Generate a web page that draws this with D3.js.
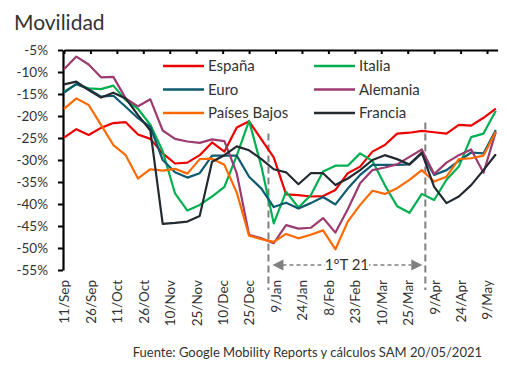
<!DOCTYPE html>
<html>
  <head>
    <meta charset="utf-8">
    <script src="https://d3js.org/d3.v7.min.js"></script>
    <style>
      body { margin: 0; background: #fff; }
      text { font-family: Lato, "Open Sans", sans-serif; fill: #333; }
    </style>
  </head>
<body>
<script>
// weekly observations (Friday of each week)
var weeks = ["2020-09-11","2020-09-18","2020-09-25","2020-10-02","2020-10-09","2020-10-16",
  "2020-10-23","2020-10-30","2020-11-06","2020-11-13","2020-11-20","2020-11-27","2020-12-04",
  "2020-12-11","2020-12-18","2020-12-25","2021-01-01","2021-01-08","2021-01-15","2021-01-22",
  "2021-01-29","2021-02-05","2021-02-12","2021-02-19","2021-02-26","2021-03-05","2021-03-12",
  "2021-03-19","2021-03-26","2021-04-02","2021-04-09","2021-04-16","2021-04-23","2021-04-30",
  "2021-05-07","2021-05-14"];

var espana = [-24.9,-23.0,-24.3,-22.7,-21.6,-21.4,-24.2,-25.2,-28.5,-30.8,-30.6,-28.9,-26.0,
  -28.1,-22.6,-21.2,-25.3,-29.4,-37.8,-38.0,-38.3,-38.2,-36.8,-33.0,-31.5,-28.1,-26.6,-24.0,
  -23.8,-23.4,-23.7,-24.0,-22.0,-22.2,-20.4,-18.3];
var italia = [-14.5,-12.8,-13.7,-13.9,-13.1,-16.4,-18.4,-22.0,-28.0,-37.6,-41.5,-40.2,-38.3,
  -36.1,-29.0,-21.1,-31.5,-44.4,-37.2,-40.8,-38.0,-32.6,-31.3,-31.3,-28.5,-30.2,-35.7,-40.5,
  -42.0,-37.7,-39.1,-34.5,-31.5,-24.8,-24.0,-18.8];
var euro = [-14.7,-12.7,-13.9,-15.6,-15.4,-17.9,-20.5,-22.5,-30.0,-32.8,-34.0,-33.0,-29.0,
  -29.0,-29.0,-33.8,-36.5,-40.7,-39.7,-41.0,-39.8,-38.4,-40.1,-36.5,-33.4,-31.1,-31.1,-31.1,
  -31.0,-28.5,-33.4,-32.3,-30.2,-28.3,-28.5,-23.2];
var alemania = [-9.4,-6.5,-8.3,-11.2,-11.1,-16.0,-17.8,-16.2,-23.3,-25.2,-25.8,-26.1,-25.3,
  -25.7,-33.0,-47.0,-47.8,-48.9,-44.8,-45.6,-45.4,-43.2,-46.5,-41.2,-35.3,-32.3,-31.7,-31.0,
  -29.3,-27.6,-33.2,-30.6,-28.9,-27.6,-32.9,-23.6];
var paisesBajos = [-18.4,-16.0,-17.5,-22.0,-26.6,-28.9,-34.2,-32.1,-32.4,-32.0,-33.1,-29.8,
  -29.7,-31.1,-37.4,-47.2,-48.0,-48.6,-46.8,-47.8,-47.0,-46.0,-50.3,-44.0,-40.2,-37.0,-37.7,
  -36.4,-34.5,-32.3,-34.9,-33.8,-29.8,-29.6,-29.0,-23.6];
var francia = [-12.8,-12.2,-14.1,-15.8,-14.7,-16.0,-19.8,-23.3,-44.5,-44.3,-44.0,-42.7,-30.4,
  -28.9,-26.9,-27.8,-29.8,-32.1,-32.8,-35.5,-33.0,-33.0,-35.7,-34.2,-32.3,-30.0,-28.9,-29.8,
  -31.0,-28.3,-36.1,-39.8,-38.3,-35.7,-32.3,-28.7];

var seriesNames = ["España","Italia","Euro","Alemania","Países Bajos","Francia"];
var seriesColors = ["#ee0000","#00b050","#0e5a70","#9b3b6f","#ff6a00","#232b31"];

// x axis tick dates (every 15 days) and y axis ticks
var tickDates = ["2020-09-11","2020-09-26","2020-10-11","2020-10-26","2020-11-10","2020-11-25",
  "2020-12-10","2020-12-25","2021-01-09","2021-01-24","2021-02-08","2021-02-23","2021-03-10",
  "2021-03-25","2021-04-09","2021-04-24","2021-05-09"];
var yTicks = [-5,-10,-15,-20,-25,-30,-35,-40,-45,-50,-55];

// first quarter 2021 marker
var quarterStart = "2021-01-05", quarterEnd = "2021-04-04", quarterLabel = "1ºT 21";

function draw() {
  "use strict";
  var parse = d3.timeParse("%Y-%m-%d");
  var values = [espana, italia, euro, alemania, paisesBajos, francia];

  var svg = d3.select("body").append("svg")
      .attr("width", 507)
      .attr("height", 371);

  // title
  svg.append("text")
    .attr("x", 14).attr("y", 30)
    .style("font-size", "21px")
    .text("Movilidad");

  var x = d3.scaleTime()
      .domain([parse("2020-09-11"), parse("2021-05-15")])
      .range([64, 497.6]);
  var y = d3.scaleLinear()
      .domain([-55, -5])
      .range([270, 50]);

  // y axis on the left
  var yAxis = svg.append("g")
      .attr("transform", "translate(63,0)")
      .call(d3.axisLeft(y).tickValues(yTicks).tickSizeInner(5).tickSizeOuter(0)
        .tickPadding(10).tickFormat(function (d) { return d + "%"; }));
  yAxis.select(".domain").attr("stroke", "#000").attr("stroke-width", 2.2);
  yAxis.selectAll(".tick line").attr("stroke", "#000").attr("stroke-width", 2);
  yAxis.selectAll("text").style("font-size", "13.5px").attr("fill", "#333");

  // x axis line sits at -5% (top), ticks pointing down
  var xTop = svg.append("g")
      .attr("transform", "translate(0," + y(-5) + ")")
      .call(d3.axisTop(x).tickValues(tickDates.map(parse)).tickSizeInner(-4)
        .tickSizeOuter(0).tickFormat(""));
  xTop.select(".domain").attr("stroke", "#000").attr("stroke-width", 2.2);
  xTop.selectAll(".tick line").attr("stroke", "#000").attr("stroke-width", 2);

  // date labels at the bottom, rotated
  var xBottom = svg.append("g")
      .attr("transform", "translate(0," + y(-55) + ")")
      .call(d3.axisBottom(x).tickValues(tickDates.map(parse)).tickSize(0)
        .tickFormat(d3.timeFormat("%-d/%b")));
  xBottom.select(".domain").remove();
  xBottom.selectAll("text")
      .attr("transform", "rotate(-90)")
      .attr("x", -10).attr("y", 0).attr("dy", "0.36em")
      .style("text-anchor", "end")
      .style("font-size", "13.5px")
      .attr("fill", "#333");

  // quarter marker: dashed verticals, arrow and label
  var grey = "#808080";
  var qx1 = x(parse(quarterStart)), qx2 = x(parse(quarterEnd));
  svg.append("line")
    .attr("x1", qx1).attr("x2", qx1).attr("y1", y(-24)).attr("y2", 290)
    .attr("stroke", grey).attr("stroke-width", 2).attr("stroke-dasharray", "7,4");
  svg.append("line")
    .attr("x1", qx2).attr("x2", qx2).attr("y1", y(-21.5)).attr("y2", 290)
    .attr("stroke", grey).attr("stroke-width", 2).attr("stroke-dasharray", "7,4");
  var ay = 265;
  svg.append("line")
    .attr("x1", qx1 + 14).attr("x2", qx2 - 14).attr("y1", ay).attr("y2", ay)
    .attr("stroke", grey).attr("stroke-width", 1.4).attr("stroke-dasharray", "4,3");
  svg.append("path")
    .attr("d", "M" + (qx1 + 4) + "," + ay + "L" + (qx1 + 15) + "," + (ay - 5.5) +
      "L" + (qx1 + 15) + "," + (ay + 5.5) + "Z")
    .attr("fill", grey);
  svg.append("path")
    .attr("d", "M" + (qx2 - 3) + "," + ay + "L" + (qx2 - 14) + "," + (ay - 5.5) +
      "L" + (qx2 - 14) + "," + (ay + 5.5) + "Z")
    .attr("fill", grey);
  var qmid = (qx1 + qx2) / 2;
  svg.append("rect")
    .attr("x", qmid - 22).attr("y", ay - 9).attr("width", 44).attr("height", 18)
    .attr("fill", "#fff");
  svg.append("text")
    .attr("x", qmid).attr("y", ay).attr("dy", "0.36em")
    .style("text-anchor", "middle").style("font-size", "15px")
    .text(quarterLabel);

  // the six lines
  var line = d3.line()
      .x(function (d, i) { return x(parse(weeks[i])); })
      .y(function (d) { return y(d); });
  values.forEach(function (v, i) {
    svg.append("path")
      .datum(v)
      .attr("d", line)
      .attr("fill", "none")
      .attr("stroke", seriesColors[i])
      .attr("stroke-width", 2.2)
      .attr("stroke-linejoin", "round");
  });

  // legend, two columns of three
  var legendOrder = [0, 2, 4, 1, 3, 5];
  legendOrder.forEach(function (s, j) {
    var col = Math.floor(j / 3), row = j % 3;
    var lx = 163 + col * 151, ly = 66 + row * 23.5;
    svg.append("line")
      .attr("x1", lx).attr("x2", lx + 41).attr("y1", ly).attr("y2", ly)
      .attr("stroke", seriesColors[s]).attr("stroke-width", 2.6);
    svg.append("text")
      .attr("x", lx + 45).attr("y", ly).attr("dy", "0.36em")
      .style("font-size", "15px")
      .text(seriesNames[s]);
  });

  // source
  svg.append("text")
    .attr("x", 482).attr("y", 357)
    .style("text-anchor", "end")
    .style("font-size", "13px")
    .text("Fuente: Google Mobility Reports y cálculos SAM 20/05/2021");
}

draw();
</script>
</body>
</html>
